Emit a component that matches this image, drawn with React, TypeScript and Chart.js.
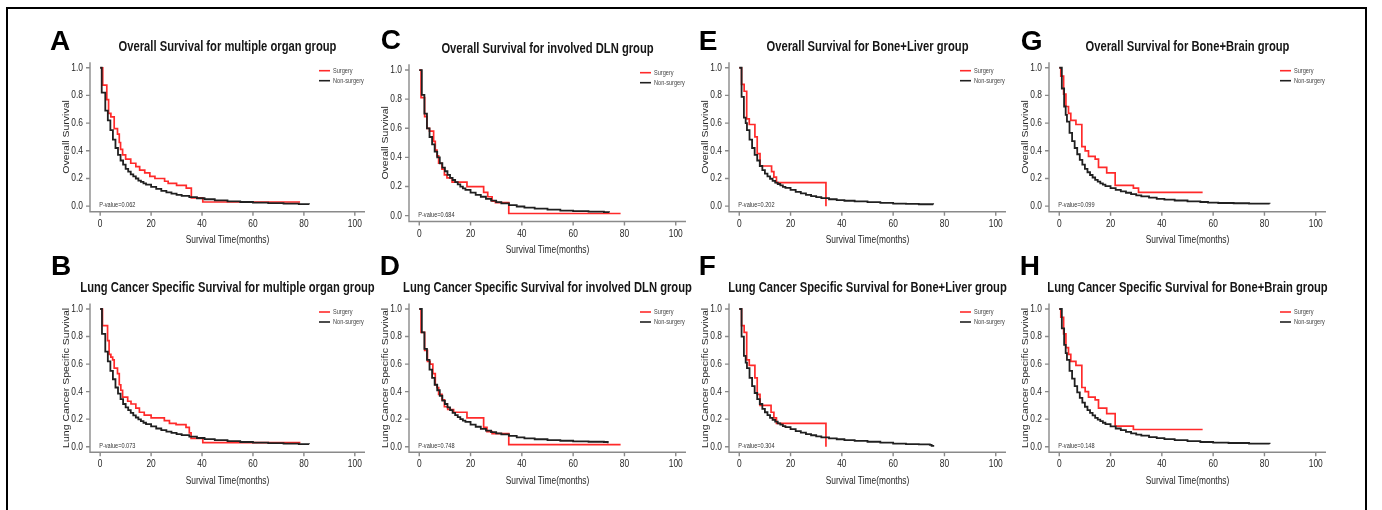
import React, { useEffect, useRef } from "react";
import { Chart, registerables } from "chart.js";
Chart.register(...registerables);

type Pt = [number, number];

// ---------- shared axis / legend text ----------
const xTicks = [0, 20, 40, 60, 80, 100];
const yTicks = [0, 0.2, 0.4, 0.6, 0.8, 1.0];
const legendLabels = ["Surgery", "Non-surgery"];
const xTitle = "Survival Time(months)";
const yTitleOS = "Overall Survival";
const yTitleLCSS = "Lung Cancer Specific Survival";

// ---------- titles ----------
const titleA = "Overall Survival for multiple organ group";
const titleB = "Lung Cancer Specific Survival for multiple organ group";
const titleC = "Overall Survival for involved DLN group";
const titleD = "Lung Cancer Specific Survival for involved DLN group";
const titleE = "Overall Survival for Bone+Liver group";
const titleF = "Lung Cancer Specific Survival for Bone+Liver group";
const titleG = "Overall Survival for Bone+Brain group";
const titleH = "Lung Cancer Specific Survival for Bone+Brain group";

// ---------- p-values ----------
const pValues = ["0.062", "0.073", "0.684", "0.748", "0.202", "0.304", "0.099", "0.148"];

// ---------- KM curves: [month of drop, survival after drop] ----------
const aSurgery: Pt[] = [[0,1],[1,0.875],[2.6,0.77],[3.3,0.67],[4.2,0.645],[5.5,0.56],[6.8,0.52],[7.5,0.46],[8,0.41],[8.8,0.37],[10,0.34],[12,0.31],[14,0.285],[15.5,0.26],[17.5,0.24],[19.5,0.215],[21.5,0.2],[25.3,0.18],[26.7,0.165],[30,0.15],[33.8,0.13],[35.8,0.06],[40.3,0.03],[78.5,0.03]];
const aNonSurgery: Pt[] = [[0,1],[0.6,0.82],[2,0.69],[3,0.62],[4,0.55],[5,0.48],[6,0.42],[7,0.37],[8,0.33],[9,0.3],[10,0.27],[11,0.25],[12,0.23],[13,0.215],[14,0.2],[15,0.185],[16,0.175],[17,0.165],[18,0.155],[20,0.14],[22,0.125],[24,0.11],[26,0.1],[28,0.09],[30,0.082],[32,0.075],[35,0.066],[38,0.057],[41,0.05],[45,0.042],[50,0.035],[55,0.03],[60,0.026],[66,0.022],[72,0.018],[78,0.015],[82,0.012]];

const bSurgery: Pt[] = [[0,1],[0.9,0.88],[2.9,0.77],[3.5,0.67],[4.2,0.65],[4.9,0.63],[5.5,0.57],[6.8,0.53],[7.5,0.45],[8.1,0.41],[8.8,0.36],[10.8,0.33],[12.1,0.31],[14,0.28],[15.4,0.25],[17.3,0.23],[20,0.21],[25.2,0.19],[27.2,0.17],[29.8,0.16],[33.7,0.14],[35,0.1],[35.7,0.06],[40.3,0.03],[78.3,0.025]];
const bNonSurgery: Pt[] = [[0,1],[0.7,0.82],[2,0.69],[3,0.62],[4,0.55],[5,0.49],[6,0.43],[7,0.385],[8,0.345],[9,0.31],[10,0.285],[11,0.265],[12,0.245],[13,0.228],[14,0.212],[15,0.198],[16,0.185],[17,0.174],[18,0.164],[20,0.148],[22,0.132],[24,0.12],[26,0.11],[28,0.1],[30,0.092],[32,0.084],[35,0.073],[38,0.063],[41,0.055],[45,0.047],[50,0.04],[55,0.034],[60,0.03],[66,0.026],[72,0.022],[78,0.019],[82,0.017]];

const cSurgery: Pt[] = [[0,1],[0.7,0.81],[2.1,0.68],[3,0.6],[4,0.58],[5.6,0.51],[6.25,0.45],[6.9,0.41],[7.55,0.36],[8.85,0.32],[9.8,0.28],[10.8,0.26],[12.8,0.23],[18.6,0.2],[25.1,0.16],[26.7,0.13],[28.4,0.1],[29.7,0.09],[34.9,0.015],[78.5,0.015]];
const cNonSurgery: Pt[] = [[0,1],[1,0.83],[2,0.7],[3,0.6],[4,0.54],[5,0.49],[6,0.44],[7,0.4],[8,0.36],[9,0.33],[10,0.305],[11,0.28],[12,0.26],[13,0.245],[14,0.23],[15,0.215],[16,0.2],[17,0.188],[18,0.177],[20,0.158],[22,0.143],[24,0.13],[26,0.115],[28,0.103],[30,0.093],[32,0.085],[35,0.073],[38,0.063],[41,0.055],[45,0.048],[50,0.041],[55,0.035],[60,0.031],[66,0.028],[72,0.025],[74,0.022]];

const dSurgery: Pt[] = [[0,1],[0.7,0.83],[2.1,0.7],[3.2,0.62],[4.2,0.6],[5.3,0.53],[6.25,0.45],[6.9,0.43],[7.55,0.38],[8.85,0.34],[9.8,0.29],[11.1,0.27],[13.4,0.25],[18.6,0.21],[25.1,0.14],[26.4,0.11],[28.4,0.095],[34.9,0.015],[78.5,0.015]];
const dNonSurgery: Pt[] = [[0,1],[1,0.83],[2,0.71],[3,0.63],[4,0.56],[5,0.5],[6,0.45],[7,0.41],[8,0.37],[9,0.335],[10,0.31],[11,0.285],[12,0.265],[13,0.245],[14,0.23],[15,0.215],[16,0.2],[17,0.19],[18,0.18],[20,0.16],[22,0.145],[24,0.13],[26,0.117],[28,0.106],[30,0.097],[32,0.089],[35,0.078],[38,0.068],[41,0.06],[45,0.054],[50,0.048],[55,0.043],[60,0.039],[66,0.036],[72,0.034],[73.5,0.025]];

const eSurgery: Pt[] = [[0,1],[0.9,0.88],[1.9,0.83],[2.9,0.63],[3.9,0.59],[6.1,0.5],[7,0.38],[8.1,0.29],[12.6,0.25],[13.5,0.21],[14.5,0.17],[33.8,0]];
const eNonSurgery: Pt[] = [[0,1],[0.9,0.79],[1.8,0.64],[2.5,0.6],[3,0.55],[4,0.48],[5,0.42],[6,0.37],[7,0.33],[8,0.29],[9,0.26],[10,0.235],[11,0.215],[12,0.198],[13,0.183],[14,0.17],[15,0.16],[16,0.15],[17,0.14],[18,0.132],[20,0.117],[22,0.103],[24,0.092],[26,0.082],[28,0.073],[30,0.065],[32,0.058],[35,0.05],[38,0.044],[41,0.039],[45,0.034],[50,0.029],[55,0.024],[60,0.019],[65,0.016],[70,0.014],[75.6,0.012]];

const fSurgery: Pt[] = [[0,1],[0.9,0.88],[1.9,0.83],[2.9,0.63],[3.9,0.59],[6.1,0.5],[7,0.38],[8.1,0.3],[12.4,0.25],[13.5,0.21],[14.5,0.17],[33.8,0]];
const fNonSurgery: Pt[] = [[0,1],[0.9,0.8],[1.8,0.66],[2.5,0.61],[3,0.57],[4,0.5],[5,0.44],[6,0.39],[7,0.345],[8,0.31],[9,0.275],[10,0.25],[11,0.23],[12,0.21],[13,0.195],[14,0.182],[15,0.17],[16,0.16],[17,0.15],[18,0.142],[20,0.127],[22,0.113],[24,0.102],[26,0.092],[28,0.083],[30,0.075],[32,0.068],[35,0.06],[38,0.054],[41,0.048],[45,0.042],[50,0.036],[55,0.03],[60,0.022],[65,0.019],[70,0.017],[74.3,0.013],[75,0.006],[76,0.006]];

const gSurgery: Pt[] = [[0,1],[0.6,0.94],[1.7,0.81],[2.6,0.72],[3.6,0.67],[4.5,0.62],[6.5,0.59],[8.8,0.43],[10.1,0.4],[11.4,0.36],[14,0.34],[15.3,0.28],[18.5,0.24],[21.8,0.15],[28.9,0.13],[30.9,0.1],[55.9,0.1]];
const gNonSurgery: Pt[] = [[0,1],[1,0.85],[1.9,0.72],[2.5,0.66],[3,0.61],[4,0.53],[5,0.47],[6,0.42],[7,0.375],[8,0.335],[9,0.3],[10,0.27],[11,0.245],[12,0.225],[13,0.207],[14,0.19],[15,0.177],[16,0.165],[17,0.155],[18,0.145],[20,0.13],[22,0.118],[24,0.107],[26,0.097],[28,0.087],[30,0.078],[32,0.07],[35,0.061],[38,0.053],[41,0.047],[45,0.041],[50,0.035],[55,0.03],[58,0.025],[62,0.023],[68,0.021],[74,0.019],[82,0.018]];

const hSurgery: Pt[] = [[0,1],[0.6,0.94],[1.7,0.82],[2.6,0.72],[3.6,0.67],[4.5,0.62],[6.5,0.59],[8.8,0.43],[10.1,0.4],[11.4,0.36],[14,0.34],[15.3,0.28],[18.5,0.24],[21.8,0.15],[28.9,0.125],[55.9,0.125]];
const hNonSurgery: Pt[] = [[0,1],[1,0.86],[1.9,0.74],[2.5,0.68],[3,0.63],[4,0.55],[5,0.495],[6,0.44],[7,0.395],[8,0.355],[9,0.32],[10,0.29],[11,0.265],[12,0.245],[13,0.227],[14,0.21],[15,0.197],[16,0.185],[17,0.174],[18,0.164],[20,0.147],[22,0.132],[24,0.12],[26,0.108],[28,0.097],[30,0.088],[32,0.08],[35,0.07],[38,0.062],[41,0.055],[45,0.047],[50,0.04],[55,0.034],[60,0.03],[66,0.027],[74,0.023],[82,0.02]];

// ---------- layout (page pixels) ----------
const COLS: [number, number][] = [[90, 365], [409.3, 686], [729.3, 1006], [1049.3, 1326]];
const ROW_TOP = [15, 252];
const ROW_BOTTOM = [262, 505];

type PanelCfg = {
  letter: string; title: string; yTitle: string; p: string;
  surgery: Pt[]; non: Pt[]; col: number; row: number;
  plotTop: number; plotBottom: number; letterX: number; letterY: number;
};

const panels: PanelCfg[] = [
  { letter: "A", title: titleA, yTitle: yTitleOS, p: pValues[0], surgery: aSurgery, non: aNonSurgery, col: 0, row: 0, plotTop: 62.2, plotBottom: 211.7, letterX: 50, letterY: 50 },
  { letter: "B", title: titleB, yTitle: yTitleLCSS, p: pValues[1], surgery: bSurgery, non: bNonSurgery, col: 0, row: 1, plotTop: 303.5, plotBottom: 452.2, letterX: 51, letterY: 275 },
  { letter: "C", title: titleC, yTitle: yTitleOS, p: pValues[2], surgery: cSurgery, non: cNonSurgery, col: 1, row: 0, plotTop: 64.2, plotBottom: 221.5, letterX: 381, letterY: 49 },
  { letter: "D", title: titleD, yTitle: yTitleLCSS, p: pValues[3], surgery: dSurgery, non: dNonSurgery, col: 1, row: 1, plotTop: 303.5, plotBottom: 452.2, letterX: 380, letterY: 275 },
  { letter: "E", title: titleE, yTitle: yTitleOS, p: pValues[4], surgery: eSurgery, non: eNonSurgery, col: 2, row: 0, plotTop: 62.2, plotBottom: 211.7, letterX: 699, letterY: 50 },
  { letter: "F", title: titleF, yTitle: yTitleLCSS, p: pValues[5], surgery: fSurgery, non: fNonSurgery, col: 2, row: 1, plotTop: 303.5, plotBottom: 452.2, letterX: 699, letterY: 275 },
  { letter: "G", title: titleG, yTitle: yTitleOS, p: pValues[6], surgery: gSurgery, non: gNonSurgery, col: 3, row: 0, plotTop: 62.2, plotBottom: 211.7, letterX: 1021, letterY: 50 },
  { letter: "H", title: titleH, yTitle: yTitleLCSS, p: pValues[7], surgery: hSurgery, non: hNonSurgery, col: 3, row: 1, plotTop: 303.5, plotBottom: 452.2, letterX: 1020, letterY: 275 },
];

const FONT = '"Liberation Sans", Arial, Helvetica, sans-serif';
const SX = 0.8; // horizontal squeeze of the original figure text
const RED = "#ff2a2a";
const BLACK = "#202020";
const AXIS = "#8a8a8a";
const TEXT = "#262626";

function drawText(
  ctx: CanvasRenderingContext2D, s: string, x: number, y: number, font: string, color: string,
  align: CanvasTextAlign, baseline: CanvasTextBaseline, rot = 0, sx = SX
) {
  ctx.save();
  ctx.translate(x, y);
  ctx.scale(sx, 1);
  if (rot) ctx.rotate(rot);
  ctx.font = font;
  ctx.fillStyle = color;
  ctx.textAlign = align;
  ctx.textBaseline = baseline;
  ctx.fillText(s, 0, 0);
  ctx.restore();
}

function Panel({ cfg }: { cfg: PanelCfg }) {
  const ref = useRef<HTMLCanvasElement | null>(null);
  const [plotL, plotR] = COLS[cfg.col];
  const cLeft = plotL - 62;
  const cRight = plotR + 22;
  const cTop = ROW_TOP[cfg.row];
  const cBottom = ROW_BOTTOM[cfg.row];
  const w = Math.round(cRight - cLeft);
  const h = cBottom - cTop;

  useEffect(() => {
    if (!ref.current) return;
    const ox = cLeft;
    const oy = cTop;
    const plugin = {
      id: "kmDeco" + cfg.letter,
      beforeDatasetsDraw(chart: any) {
        const ctx: CanvasRenderingContext2D = chart.ctx;
        const { left, right, top, bottom } = chart.chartArea;
        const xs = chart.scales.x, ys = chart.scales.y;
        ctx.save();
        ctx.strokeStyle = AXIS;
        ctx.lineWidth = 1.4;
        ctx.beginPath();
        ctx.moveTo(left, top);
        ctx.lineTo(left, bottom);
        ctx.lineTo(right, bottom);
        for (const v of yTicks) {
          const py = ys.getPixelForValue(v);
          ctx.moveTo(left - 4, py);
          ctx.lineTo(left, py);
        }
        for (const v of xTicks) {
          const px = xs.getPixelForValue(v);
          ctx.moveTo(px, bottom);
          ctx.lineTo(px, bottom + 4);
        }
        ctx.stroke();
        ctx.restore();
      },
      afterDraw(chart: any) {
        const ctx: CanvasRenderingContext2D = chart.ctx;
        const { left, right, top, bottom } = chart.chartArea;
        const xs = chart.scales.x, ys = chart.scales.y;
        const tickFont = `10.5px ${FONT}`;
        for (const v of yTicks) {
          drawText(ctx, v.toFixed(1), left - 7, ys.getPixelForValue(v), tickFont, TEXT, "right", "middle");
        }
        for (const v of xTicks) {
          drawText(ctx, String(v), xs.getPixelForValue(v), bottom + 7, tickFont, TEXT, "center", "top");
        }
        drawText(ctx, xTitle, (left + right) / 2, bottom + 28.5, `10.5px ${FONT}`, TEXT, "center", "middle");
        drawText(ctx, cfg.yTitle, left - 23, (top + bottom) / 2, `10.5px ${FONT}`, TEXT, "center", "middle", -Math.PI / 2);
        drawText(ctx, cfg.title, (left + right) / 2, top - 11.6, `bold 14px ${FONT}`, "#161616", "center", "alphabetic");
        drawText(ctx, cfg.letter, cfg.letterX - ox, cfg.letterY - oy, `bold 28px ${FONT}`, "#000", "left", "alphabetic", 0, 1);
        drawText(ctx, "P-value=" + cfg.p, xs.getPixelForValue(0) - 1, ys.getPixelForValue(0) + 1, `7px ${FONT}`, "#333", "left", "alphabetic");
        const colors = [RED, BLACK];
        legendLabels.forEach((lab, i) => {
          const ly = top + 8.5 + i * 10;
          ctx.save();
          ctx.strokeStyle = colors[i];
          ctx.lineWidth = 1.6;
          ctx.beginPath();
          ctx.moveTo(right - 46, ly);
          ctx.lineTo(right - 35, ly);
          ctx.stroke();
          ctx.restore();
          drawText(ctx, lab, right - 32, ly, `7px ${FONT}`, "#444", "left", "middle");
        });
      },
    };

    const toXY = (pts: Pt[]) => pts.map(([x, y]) => ({ x, y }));
    const chart = new Chart(ref.current, {
      type: "line",
      data: {
        datasets: [
          { label: legendLabels[1], data: toXY(cfg.non), borderColor: BLACK, borderWidth: 1.8, pointRadius: 0, stepped: true, fill: false, tension: 0 },
          { label: legendLabels[0], data: toXY(cfg.surgery), borderColor: RED, borderWidth: 1.7, pointRadius: 0, stepped: true, fill: false, tension: 0 },
        ],
      },
      options: {
        responsive: false,
        animation: false,
        events: [],
        parsing: false as any,
        layout: {
          padding: {
            left: plotL - cLeft,
            right: cRight - plotR,
            top: cfg.plotTop - cTop,
            bottom: cBottom - cfg.plotBottom,
          },
        },
        plugins: { legend: { display: false }, title: { display: false }, tooltip: { enabled: false } },
        scales: {
          x: { type: "linear", min: -4, max: 104, display: false },
          y: { type: "linear", min: -0.04, max: 1.04, display: false },
        },
      },
      plugins: [plugin],
    } as any);
    return () => chart.destroy();
  }, []);

  return (
    <canvas
      ref={ref}
      width={w}
      height={h}
      style={{ position: "absolute", left: cLeft, top: cTop, width: w, height: h }}
    />
  );
}

export default function App() {
  return (
    <div style={{ position: "absolute", left: 0, top: 0, width: 1382, height: 510, overflow: "hidden", background: "#fff" }}>
      <div
        style={{
          position: "absolute", left: 6, top: 7, width: 1361, height: 600,
          border: "2px solid #000", boxSizing: "border-box",
        }}
      />
      {panels.map((p) => (
        <Panel key={p.letter} cfg={p} />
      ))}
    </div>
  );
}
